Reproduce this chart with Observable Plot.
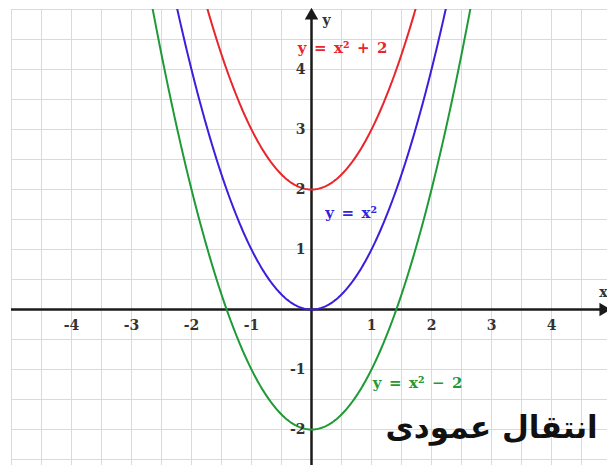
<!DOCTYPE html>
<html>
<head>
<meta charset="utf-8">
<script src="https://cdn.jsdelivr.net/npm/d3@7"></script>
<script src="https://cdn.jsdelivr.net/npm/@observablehq/plot@0.6"></script>
<style>
  html, body { margin: 0; padding: 0; background: #fff; }
</style>
</head>
<body>
<div id="chart"></div>
<script>
// Curves y = x^2 + shift
const shifts = [2, 0, -2];
const curveColors = ["#e8262b", "#3a1fdc", "#1f9a36"];
const curveLabels = ["y\u2002=\u2002x\u00b2\u2002+\u20022", "y\u2002=\u2002x\u00b2", "y\u2002=\u2002x\u00b2\u2002\u2212\u20022"];
const labelX = [-0.23, 0.23, 1.02];
const labelY = [4.35, 1.6, -1.23];

// Tick labels
const xTicks = [-4, -3, -2, -1, 1, 2, 3, 4];
const yTicks = [-2, -1, 1, 2, 3, 4];

// Grid lines (every half unit)
const gridX = [-5, -4.5, -4, -3.5, -3, -2.5, -2, -1.5, -1, -0.5, 0.5, 1, 1.5, 2, 2.5, 3, 3.5, 4, 4.5];
const gridY = [-2.5, -2, -1.5, -1, -0.5, 0.5, 1, 1.5, 2, 2.5, 3, 3.5, 4, 4.5, 5];

const title = "انتقال عمودی";

const W = 607, H = 465;
const mL = 11, mT = 9;
const xDomain = [-5, -5 + (W - mL) / 60];
const yDomain = [5 - (H - mT) / 60, 5];

const sampleX = d3.range(-3, 3.0001, 0.02);
const curves = shifts.map((s, i) => sampleX.map(x => ({x, y: x * x + s, i})));

const serif = "'DejaVu Serif', 'Liberation Serif', serif";

const labelData = shifts.map((s, i) => ({x: labelX[i], y: labelY[i], t: curveLabels[i], c: curveColors[i]}));

const chart = Plot.plot({
  width: W,
  height: H,
  marginLeft: mL,
  marginRight: 0,
  marginTop: mT,
  marginBottom: 0,
  x: {domain: xDomain, axis: null},
  y: {domain: yDomain, axis: null},
  style: {background: "#fff"},
  marks: [
    Plot.ruleX(gridX, {stroke: "#dadada", strokeWidth: 1}),
    Plot.ruleY(gridY, {stroke: "#dadada", strokeWidth: 1}),
    Plot.ruleY([0], {stroke: "#1a1a1a", strokeWidth: 2.5}),
    Plot.ruleX([0], {stroke: "#1a1a1a", strokeWidth: 2.5, y1: yDomain[0], y2: 4.93}),
    Plot.dot([{x: 0, y: 4.9}], {x: "x", y: "y", symbol: "triangle", r: 5, fill: "#1a1a1a", stroke: "none"}),
    Plot.dot([{x: xDomain[1] - 0.07, y: 0}], {x: "x", y: "y", symbol: "triangle", r: 5, fill: "#1a1a1a", stroke: "none", rotate: 90}),
    ...curves.map((c, i) => Plot.line(c, {x: "x", y: "y", stroke: curveColors[i], strokeWidth: 2, clip: true})),
    Plot.text(xTicks, {x: d => d, y: 0, dy: 16, text: d => String(d), fontFamily: serif, fontWeight: "bold", fontSize: 14, fill: "#333"}),
    Plot.text(yTicks, {x: 0, y: d => d, dx: -6, text: d => String(d), textAnchor: "end", fontFamily: serif, fontWeight: "bold", fontSize: 14, fill: "#333"}),
    Plot.text([{x: 0.25, y: 4.82, t: "y"}, {x: xDomain[1] - 0.07, y: 0.28, t: "x"}], {x: "x", y: "y", text: "t", fontFamily: serif, fontWeight: "bold", fontSize: 14, fill: "#333"}),
    Plot.text(labelData, {x: "x", y: "y", text: "t", fill: "c", textAnchor: "start", fontFamily: serif, fontWeight: "bold", fontSize: 15}),
    Plot.text([title], {x: 4.77, y: -1.98, text: d => d, textAnchor: "end", fontFamily: "'DejaVu Sans', sans-serif", fontWeight: "bold", fontSize: 31, fill: "#111"})
  ]
});

document.getElementById("chart").appendChild(chart);
</script>
</body>
</html>
